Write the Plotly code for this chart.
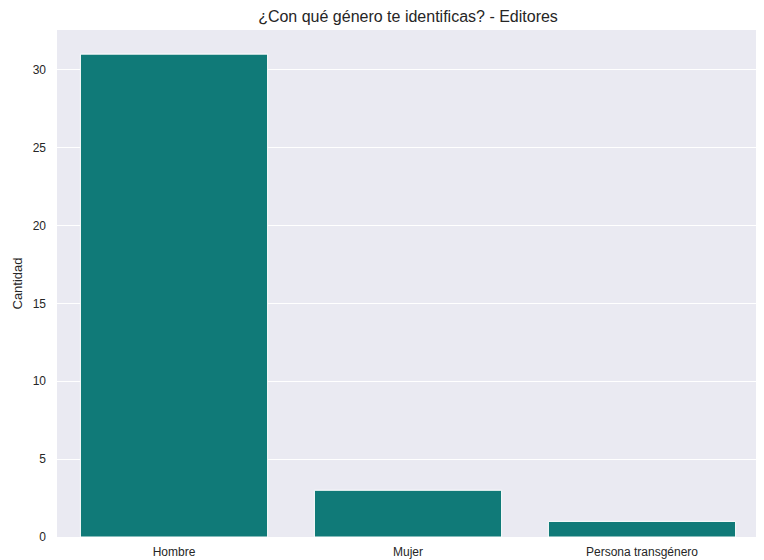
import plotly.graph_objects as go

categories = ["Hombre", "Mujer", "Persona transgénero"]
values = [31, 3, 1]
y_ticks = [0, 5, 10, 15, 20, 25, 30]

fig = go.Figure(go.Bar(
    x=categories, y=values,
    marker=dict(color="#107a78", line=dict(color="white", width=1)),
    width=0.8,
))

fig.update_layout(
    width=764, height=560,
    margin=dict(l=49, r=13, t=22, b=31, autoexpand=False),
    paper_bgcolor="white", plot_bgcolor="#eaeaf2",
    font=dict(family="Liberation Sans, Arial, sans-serif", color="#262626", size=12),
    title=dict(text="¿Con qué género te identificas? - Editores", x=0.5, xref="paper", xanchor="center",
               y=1 - 8/560, yanchor="middle", font=dict(size=16)),
    showlegend=False,
    bargap=0.2,
)
fig.update_xaxes(range=[-0.5, 2.5], showgrid=False, zeroline=False, ticks="", automargin=False,
                 tickfont=dict(size=12), ticklabelstandoff=6)
fig.update_yaxes(range=[0, 32.55], tickvals=y_ticks, gridcolor="white", gridwidth=1, zeroline=False,
                 ticks="", automargin=False, ticklabelstandoff=10,
                 title=dict(text="Cantidad", font=dict(size=13), standoff=7),
                 tickfont=dict(size=12))

fig.write_html("out.html")
